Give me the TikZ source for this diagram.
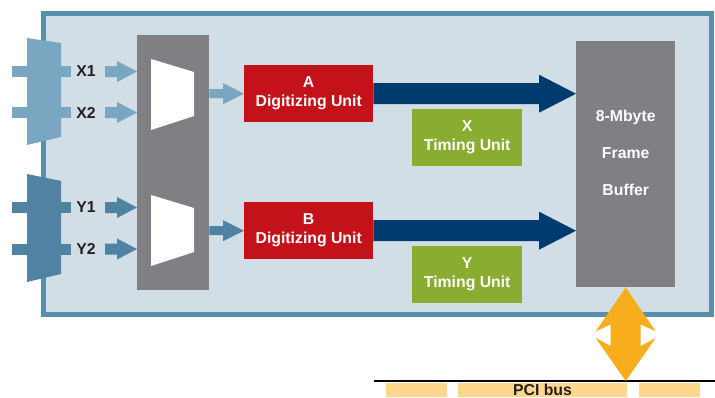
\documentclass[tikz,border=0pt]{standalone}
\usepackage{fontspec}
\setmainfont{Liberation Sans}
\usetikzlibrary{calc}
\definecolor{framefill}{HTML}{D1DEE6}
\definecolor{framedraw}{HTML}{5A8EAA}
\definecolor{xblue}{HTML}{79A6C0}
\definecolor{yblue}{HTML}{4F82A3}
\definecolor{muxgray}{HTML}{808084}
\definecolor{unitred}{HTML}{C4121A}
\definecolor{navy}{HTML}{003B70}
\definecolor{unitgreen}{HTML}{89AC31}
\definecolor{busorange}{HTML}{F8AE1C}
\definecolor{busyellow}{HTML}{FDD88C}
\definecolor{labeldark}{HTML}{231F20}
\newcommand\harrow[6]{%
  \fill[#6] let \p1=(#1), \p2=(#2) in
    (\x1,{\y1+#3}) -- ({\x2-#5},{\y1+#3}) -- ({\x2-#5},{\y1+#4}) -- (\x2,\y1)
    -- ({\x2-#5},{\y1-#4}) -- ({\x2-#5},{\y1-#3}) -- (\x1,{\y1-#3}) -- cycle;}
\tikzset{
  txt/.style={font=\bfseries\fontsize{15.8}{19}\selectfont},
  unitbox/.style={txt, text=white, inner sep=0pt, align=center, anchor=north west},
  pinlabel/.style={txt, text=labeldark, inner sep=0pt},
}
\begin{document}
\begin{tikzpicture}[x=1pt,y=-1pt]
\useasboundingbox (0,0) rectangle (715,397);
% board
\draw[framedraw, line width=5pt, fill=framefill] (43.5,13.5) rectangle (711.5,314.5);
% connectors
\fill[xblue] (12,66) rectangle (71,77);
\fill[xblue] (12,107) rectangle (71,118);
\fill[xblue] (27,38) -- (61,43) -- (61,137) -- (27,145) -- cycle;
\fill[yblue] (12,202) rectangle (71,213);
\fill[yblue] (12,243.5) rectangle (71,254.5);
\fill[yblue] (27,174) -- (61,181) -- (61,274) -- (27,282) -- cycle;
\node[pinlabel] (lx1) at (86,71.5) {X1};
\node[pinlabel] (lx2) at (86,112.5) {X2};
\node[pinlabel] (ly1) at (86,207.5) {Y1};
\node[pinlabel] (ly2) at (86,249) {Y2};
% multiplexer block
\node[fill=muxgray, inner sep=0pt, minimum width=72pt, minimum height=255pt, anchor=north west] (mux) at (137,35) {};
\fill[white] (151,59) -- (194,72) -- (194,116) -- (151,130) -- cycle;
\fill[white] (151,195) -- (194,208) -- (194,252) -- (151,266) -- cycle;
% input arrows
\coordinate (ix1) at (105,71.5);
\coordinate (ix2) at (105,112.5);
\coordinate (iy1) at (105,207.5);
\coordinate (iy2) at (105,249);
\harrow{ix1}{mux.west |- ix1}{5.5pt}{10.5pt}{20pt}{xblue}
\harrow{ix2}{mux.west |- ix2}{5.5pt}{10.5pt}{20pt}{xblue}
\harrow{iy1}{mux.west |- iy1}{5.5pt}{10.5pt}{20pt}{yblue}
\harrow{iy2}{mux.west |- iy2}{5.5pt}{10.5pt}{20pt}{yblue}
% digitizing units
\node[unitbox, fill=unitred, minimum width=129pt, minimum height=57pt] (A) at (244,65) {A\\Digitizing Unit};
\node[unitbox, fill=unitred, minimum width=129pt, minimum height=57pt] (B) at (244,202) {B\\Digitizing Unit};
\harrow{mux.east |- A.west}{A.west}{4.5pt}{10.5pt}{21pt}{xblue}
\harrow{mux.east |- B.west}{B.west}{4.5pt}{10.5pt}{21pt}{yblue}
% timing units
\node[unitbox, fill=unitgreen, minimum width=110pt, minimum height=57pt] (X) at (412,109) {X\\Timing Unit};
\node[unitbox, fill=unitgreen, minimum width=110pt, minimum height=57pt] (Y) at (412,246) {Y\\Timing Unit};
% frame buffer
\node[fill=muxgray, inner sep=0pt, minimum width=99pt, minimum height=246pt, anchor=north west] (buf) at (576,41) {};
\node[font=\bfseries\fontsize{15.8}{37}\selectfont, text=white, inner sep=0pt, align=center] (buftxt) at ($(buf.center)+(0,-11)$)
  {8-Mbyte\\Frame\\Buffer};
% data arrows
\harrow{A.east}{buf.west |- A.east}{10.5pt}{19pt}{37pt}{navy}
\harrow{B.east}{buf.west |- B.east}{10.5pt}{19pt}{37pt}{navy}
% PCI bus
\fill[busyellow] (386,383) rectangle (447,397);
\fill[busyellow] (458,383) rectangle (627,397);
\fill[busyellow] (639,383) rectangle (700,397);
\coordinate (busl) at (374,381);
\coordinate (busr) at (715,381);
\draw[black, line width=2pt] (busl) -- (busr);
\node[txt, text=labeldark, inner sep=0pt, anchor=base] (pci) at (542.5,395) {PCI bus};
% bidirectional bus arrow
\coordinate (bt) at (buf.south);
\coordinate (bb) at (buf.south |- busl);
\fill[busorange] let \p1=(bt), \p2=(bb) in
  (\x1,\y1) -- ({\x1+30pt},{\y1-44pt}) -- ({\x1+15pt},{\y1-37pt}) -- ({\x1+15pt},{\y2+35pt})
  -- ({\x1+30pt},{\y2+43pt}) -- (\x2,\y2) -- ({\x1-30pt},{\y2+43pt}) -- ({\x1-15pt},{\y2+35pt})
  -- ({\x1-15pt},{\y1-37pt}) -- ({\x1-30pt},{\y1-44pt}) -- cycle;
\end{tikzpicture}
\end{document}
